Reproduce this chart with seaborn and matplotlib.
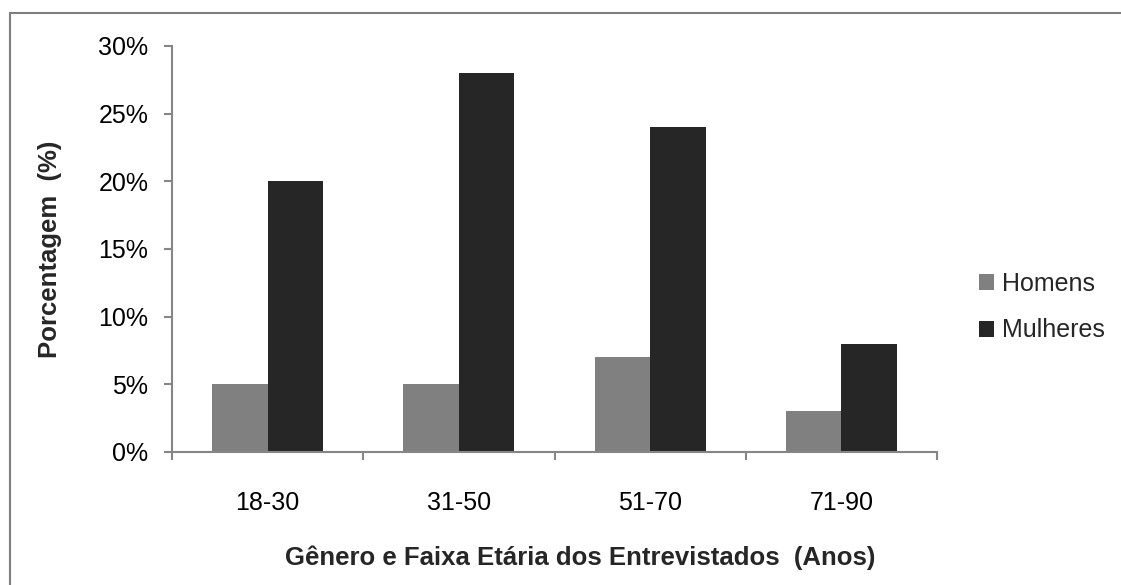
import matplotlib as mpl
import matplotlib.pyplot as plt
import pandas as pd
import seaborn as sns
from matplotlib.lines import Line2D
from matplotlib.patches import Patch

mpl.use('Agg')

# data
faixas = ['18-30', '31-50', '51-70', '71-90']
homens = [5, 5, 7, 3]
mulheres = [20, 28, 24, 8]
series = ['Homens', 'Mulheres']

df = pd.DataFrame({
    'faixa': faixas * 2,
    'genero': ['Homens'] * len(faixas) + ['Mulheres'] * len(faixas),
    'valor': homens + mulheres,
})

# general settings
sns.set_theme(style='white')
plt.rcParams['font.family'] = ['Liberation Sans', 'DejaVu Sans']
colors = ['#808080', '#262626']
axis_color = '#868686'

fig = plt.figure(figsize=(11.21, 5.85), dpi=100)
ax = fig.add_axes([0.1534, 0.2274, 0.8359 - 0.1534, 0.9214 - 0.2274])

sns.barplot(data=df, x='faixa', y='valor', hue='genero', order=faixas, hue_order=series,
            palette=colors, width=0.58, gap=0, saturation=1, linewidth=0, ax=ax, legend=False)

ax.set_ylim(0, 30)
ax.set_xlim(-0.5, len(faixas) - 0.5)
ax.set_yticks(range(0, 31, 5))
ax.yaxis.set_major_formatter(mpl.ticker.FuncFormatter(lambda v, p: '{:.0f}%'.format(v)))

# category ticks between groups
ax.set_xticks([i - 0.5 for i in range(len(faixas) + 1)], minor=True)
ax.tick_params(axis='x', which='major', length=0, pad=28, labelsize=18, colors='black')
ax.tick_params(axis='x', which='minor', length=6, width=1.5, color=axis_color, direction='out', bottom=True)
ax.tick_params(axis='y', which='major', length=6, width=1.5, color=axis_color, direction='out', left=True,
               labelsize=18, labelcolor='black', pad=11)

for side in ['top', 'right']:
    ax.spines[side].set_visible(False)
for side in ['left', 'bottom']:
    ax.spines[side].set_color(axis_color)
    ax.spines[side].set_linewidth(1.5)

# x label sits a bit right of the plot centre, as in the original
ax.set_xlabel('Gênero e Faixa Etária dos Entrevistados  (Anos)', fontsize=18.5, fontweight='bold',
              labelpad=22, x=0.533)
ax.set_ylabel('Porcentagem  (%)', fontsize=18.5, fontweight='bold', labelpad=26)

# legend
handles = [Patch(facecolor=c, edgecolor='none') for c in colors]
fig.legend(handles, series, loc='center left', bbox_to_anchor=(0.853, 0.475), frameon=False,
           fontsize=18, handlelength=0.6, handleheight=0.6, handletextpad=0.35, labelspacing=0.9)

# chart border (top and left visible)
fig.add_artist(Line2D([10 / 1121, 1], [1 - 13 / 585, 1 - 13 / 585], color='#7f7f7f', linewidth=1.5))
fig.add_artist(Line2D([10 / 1121, 10 / 1121], [0, 1 - 13 / 585], color='#7f7f7f', linewidth=1.5))

plt.savefig('out.png', dpi=100)
plt.close()
